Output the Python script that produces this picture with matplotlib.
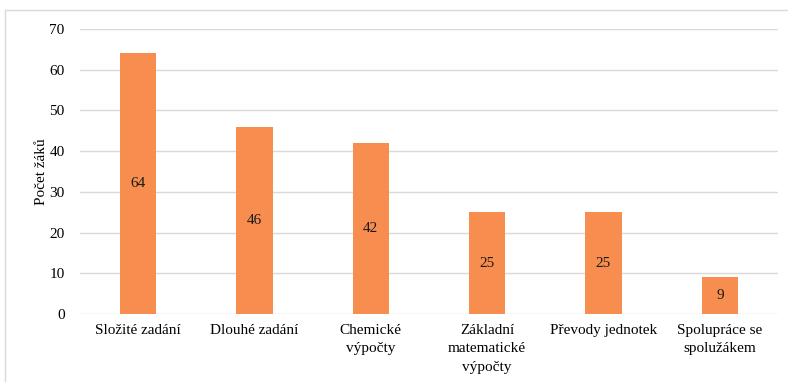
import matplotlib.pyplot as plt
from matplotlib.patches import Rectangle

categories = ["Složité zadání", "Dlouhé zadání", "Chemické\nvýpočty",
              "Základní\nmatematické\nvýpočty", "Převody jednotek",
              "Spolupráce se\nspolužákem"]
counts = [64, 46, 42, 25, 25, 9]
y_ticks = [0, 10, 20, 30, 40, 50, 60, 70]

plt.rcParams['font.family'] = ['Liberation Serif', 'DejaVu Serif']

fig = plt.figure(figsize=(7.88, 3.82), dpi=100)
ax = fig.add_axes([80 / 788, 1 - 314 / 382, 698 / 788, 285 / 382])

x = range(len(categories))
bars = ax.bar(x, counts, width=0.31, color='#F78D4E', zorder=3)
for rect, v in zip(bars, counts):
    ax.text(rect.get_x() + rect.get_width() / 2, v / 2, str(v),
            ha='center', va='center', fontsize=11, color='#1a1a1a', zorder=4)

ax.set_xlim(-0.5, len(categories) - 0.5)
ax.set_ylim(0, 70)
ax.set_yticks(y_ticks)
ax.set_xticks(list(x))
ax.set_xticklabels(categories, fontsize=11, linespacing=1.55)
ax.tick_params(axis='y', labelsize=11, length=0, pad=11)
ax.tick_params(axis='x', length=0, pad=7)
ax.yaxis.grid(True, color='#d9d9d9', linewidth=1, zorder=0)
for s in ax.spines.values():
    s.set_visible(False)
ax.set_ylabel("Počet žáků", fontsize=11, labelpad=1)

# outer frame of the chart area
fig.patches.append(Rectangle((5 / 788, -0.1), 1, 1.1 - 10 / 382, transform=fig.transFigure,
                             fill=False, edgecolor='#d9d9d9', linewidth=1))

fig.savefig("out.png", dpi=100)
